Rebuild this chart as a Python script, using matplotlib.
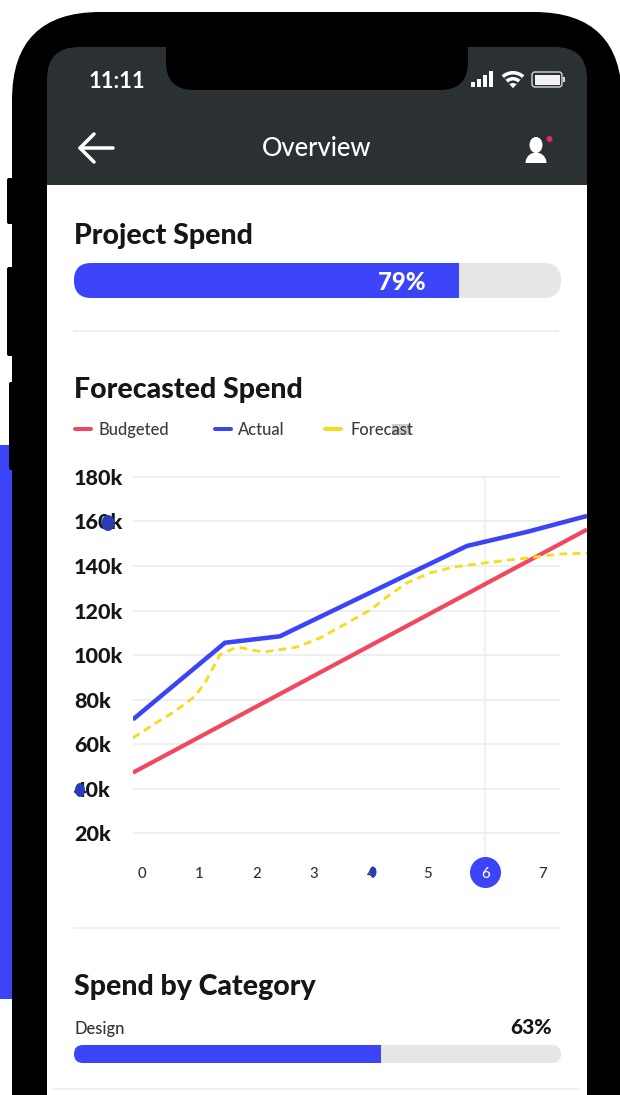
import matplotlib
matplotlib.use('Agg')
import matplotlib.pyplot as plt
from matplotlib.patches import Rectangle, FancyBboxPatch, Circle, Ellipse, Wedge

plt.rcParams['font.family'] = ['Lato', 'DejaVu Sans']

# chart data
y_ticks = [20, 40, 60, 80, 100, 120, 140, 160, 180]
y_labels = ['20k', '40k', '60k', '80k', '100k', '120k', '140k', '160k', '180k']
x_ticks = [0, 1, 2, 3, 4, 5, 6, 7]
selected_tick = 6

budgeted_x = [-0.16, 3.11, 7.78]
budgeted = [47.1, 92.1, 156.4]

actual_x = [-0.16, 1.45, 2.41, 5.68, 6.74, 7.78]
actual = [71.0, 105.5, 108.4, 149.0, 155.4, 162.5]

forecast_x = [-0.16, 0.24, 0.56, 0.91, 1.10, 1.36, 1.66, 2.12, 2.36, 2.71, 3.11,
              3.46, 3.99, 4.28, 4.63, 5.03, 5.44, 5.96, 6.73, 7.31, 7.78]
forecast = [62.7, 69.4, 74.4, 81.1, 87.4, 100.0, 103.6, 101.3, 102.2, 103.6, 107.6,
            112.6, 120.2, 126.1, 132.4, 136.8, 139.5, 141.3, 143.6, 145.4, 145.8]

project_spend = 79
design_spend = 63

legend_names = ['Budgeted', 'Actual', 'Forecast']

BLUE = '#3b44f6'
RED = '#f2485f'
YELLOW = '#f7dc1a'
HEADER = '#2b3033'
TRACK = '#e6e6e6'
GRID = '#eceef0'
INK = '#161618'

W, H = 620, 1095
fig = plt.figure(figsize=(W / 100, H / 100), dpi=100, facecolor='white')


def px_axes(left, top, right, bottom, **kw):
    return fig.add_axes([left / W, 1 - bottom / H, (right - left) / W, (bottom - top) / H], **kw)


def pt(px):
    return px * 0.72


# phone body and screen, drawn in pixel units
bg = fig.add_axes([0, 0, 1, 1])
bg.set_xlim(0, W)
bg.set_ylim(H, 0)
bg.axis('off')

bg.add_patch(Rectangle((0, 445), 14, 554, color=BLUE, lw=0))
for left, top, bottom in [(7, 178, 224), (7, 267, 356), (9, 382, 470)]:
    bg.add_patch(FancyBboxPatch((left, top), 8, bottom - top, boxstyle='round,pad=0,rounding_size=2', color='black', lw=0))
bg.add_patch(FancyBboxPatch((12, 12), 610, 1300, boxstyle='round,pad=0,rounding_size=88', color='black', lw=0))
bg.add_patch(FancyBboxPatch((47, 47), 540, 300, boxstyle='round,pad=0,rounding_size=32', color=HEADER, lw=0))
bg.add_patch(Rectangle((47, 185), 540, 1000, color='white', lw=0))
bg.add_patch(FancyBboxPatch((166, 20), 302, 70, boxstyle='round,pad=0,rounding_size=28', color='black', lw=0))

# status bar
bg.text(117, 81, '11:11', color='white', fontsize=pt(22), ha='center', va='center', fontweight='bold')
for i, h in enumerate([5, 8, 12, 16]):
    bg.add_patch(Rectangle((471 + i * 6, 87 - h), 3.6, h, color='white', lw=0))
bg.add_patch(Wedge((513, 88), 17, 228, 312, color='white', lw=0))
bg.add_patch(Wedge((513, 88), 13.5, 228, 312, color=HEADER, lw=0))
bg.add_patch(Wedge((513, 88), 11, 228, 312, color='white', lw=0))
bg.add_patch(Wedge((513, 88), 7.5, 228, 312, color=HEADER, lw=0))
bg.add_patch(Wedge((513, 88), 5, 228, 312, color='white', lw=0))
bg.add_patch(FancyBboxPatch((532, 72), 30, 15, boxstyle='round,pad=0,rounding_size=3', fc='none', ec='#d8d8d8', lw=1))
bg.add_patch(Rectangle((534.5, 74.5), 25, 10, color='#f2f2f2', lw=0))
bg.add_patch(Rectangle((563, 77), 2, 5, color='#d8d8d8', lw=0))

# nav bar
bg.plot([80, 113], [148, 148], color='white', lw=pt(3.5), solid_capstyle='round')
bg.plot([94, 80, 94], [134, 148, 162], color='white', lw=pt(3.5), solid_capstyle='round', solid_joinstyle='round')
bg.text(317, 149, 'Overview', color='white', fontsize=pt(25.5), ha='center', va='center', fontweight='medium')
bg.add_patch(Ellipse((536, 145), 13, 16, color='white', lw=0))
bg.add_patch(Wedge((536, 163), 10.5, 180, 360, color='white', lw=0))
bg.add_patch(Circle((549.5, 139), 3, color='#e8255f', lw=0))

# section titles and dividers
title_font = dict(color=INK, fontsize=pt(28.5), va='center', fontweight='black')
bg.text(74, 236, 'Project Spend', **title_font)
bg.text(74, 390, 'Forecasted Spend', **title_font)
bg.text(74, 987, 'Spend by Category', **title_font)
bg.plot([74, 558], [331, 331], color='#ececec', lw=1.2)
bg.plot([74, 560], [928, 928], color='#ececec', lw=1.2)
bg.plot([53, 580], [1089, 1089], color='#f0f0f0', lw=1.2)

# legend row
handle_x = [75, 215, 325]
text_x = [98, 238, 351]
for x, tx, name, col in zip(handle_x, text_x, legend_names, [RED, BLUE, YELLOW]):
    bg.plot([x, x + 16], [429, 429], color=col, lw=pt(4), solid_capstyle='round')
    bg.text(tx, 430, name, color='#3a3d40', fontsize=pt(16.5), va='center', fontweight='medium')
bg.add_patch(Rectangle((392, 424), 19, 11, color='#c4c4c4', alpha=0.85, lw=0))

# forecasted spend chart
ax = px_axes(133, 470, 587, 857)
ax.patch.set_visible(False)
ax.set_xlim(-0.157, 7.78)
ax.set_ylim(20 - (857 - 833) * 0.4494, 180 + (477 - 470) * 0.4494)
for s in ax.spines.values():
    s.set_visible(False)
ax.set_axisbelow('line')
ax.hlines(y_ticks, -0.157, 7.3, color=GRID, lw=pt(1.8), zorder=1)
ax.vlines(selected_tick, 20 - (857 - 833) * 0.4494, 180, color=GRID, lw=pt(1.6), zorder=1)
ax.plot(budgeted_x, budgeted, color=RED, lw=pt(4.2), zorder=3, solid_capstyle='butt')
ax.plot(forecast_x, forecast, color=YELLOW, lw=pt(2.8), ls=(0, (2.8, 1.9)), zorder=4)
ax.plot(actual_x, actual, color=BLUE, lw=pt(4.5), zorder=5, solid_capstyle='butt', solid_joinstyle='miter')

# y labels sit flush left with the section titles
ax.set_yticks(y_ticks, y_labels, fontsize=pt(21.5), fontweight='black', color=INK, ha='left')
ax.set_xticks(x_ticks, [str(t) for t in x_ticks], fontsize=pt(15), color='#333333', fontweight='medium')
ax.tick_params(axis='y', length=0, pad=pt(59))
ax.tick_params(axis='x', length=0, pad=pt(9.5))
ax.get_xticklabels()[selected_tick].set_color('white')
ax.scatter([selected_tick], [20 - (872 - 833) * 0.4494], s=pt(31) ** 2, color=BLUE, clip_on=False, zorder=1.2, lw=0)

# overlay for the smudges on a few labels
top = fig.add_axes([0, 0, 1, 1])
top.set_xlim(0, W)
top.set_ylim(H, 0)
top.axis('off')
top.add_patch(Ellipse((108, 523), 13, 16, color='#2c3bb8', lw=0))
top.add_patch(Ellipse((80, 790), 10, 14, color='#2c3bb8', lw=0))
top.add_patch(Ellipse((373, 872), 7, 11, color='#2c3bb8', lw=0))


def progress(top_px, bottom_px, value):
    track = FancyBboxPatch((74, top_px), 487, bottom_px - top_px,
                           boxstyle='round,pad=0,rounding_size=%g' % ((bottom_px - top_px) / 2),
                           color=TRACK, lw=0)
    bg.add_patch(track)
    a = px_axes(74, top_px, 561, bottom_px)
    a.set_xlim(0, 100)
    a.set_ylim(0, 1)
    a.axis('off')
    bars = a.barh([0.5], [value], height=1, color=BLUE)
    for b in bars:
        b.set_clip_path(track)
    return a


progress(263, 298, project_spend)
progress(1045, 1063, design_spend)

labels = fig.add_axes([0, 0, 1, 1])
labels.set_xlim(0, W)
labels.set_ylim(H, 0)
labels.axis('off')
labels.text(426, 282, f'{project_spend}%', color='white', fontsize=pt(24), ha='right', va='center', fontweight='black')
labels.text(74, 1029, 'Design', color='#333333', fontsize=pt(16.5), va='center', fontweight='medium')
labels.text(552, 1028, f'{design_spend}%', color=INK, fontsize=pt(21), ha='right', va='center', fontweight='black')

fig.savefig('out.png', dpi=100)
